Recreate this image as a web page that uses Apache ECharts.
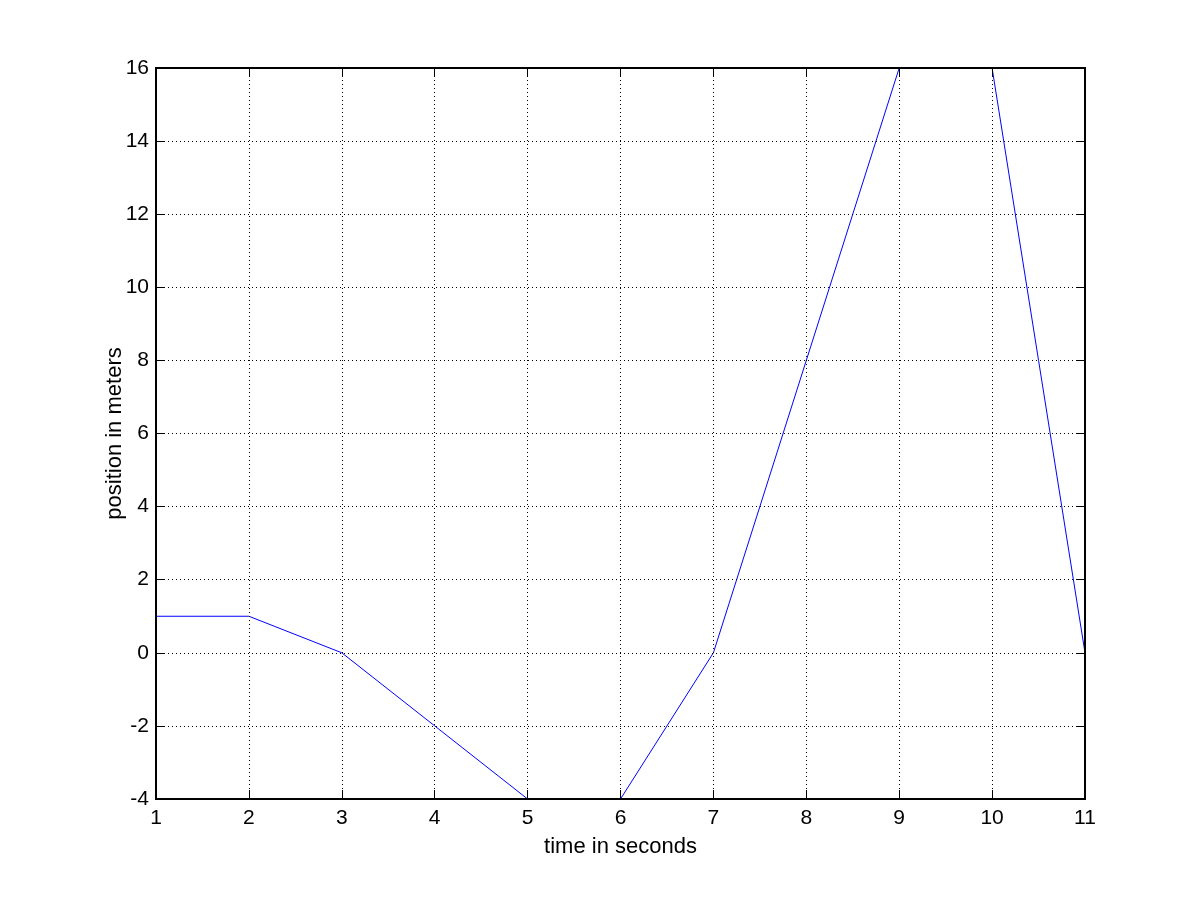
<!DOCTYPE html>
<html><head><meta charset="utf-8">
<script src="https://cdn.jsdelivr.net/npm/echarts@6/dist/echarts.min.js"></script>
<style>html,body{margin:0;padding:0;background:#fff}#c{width:1200px;height:900px}</style>
</head><body><div id="c"></div>
<script>
const timeSec = [1, 2, 3, 4, 5, 6, 7, 8, 9, 10, 11];
const positionM = [1, 1, 0, -2, -4, -4, 0, 8, 16, 16, 0];
const xLabel = 'time in seconds';
const yLabel = 'position in meters';

const font = 'Liberation Sans, Arial, sans-serif';
const FS = 21;
const NFS = 22;
const chart = echarts.init(document.getElementById('c'), null, {renderer: 'canvas'});
const tick = {show: true, inside: true, length: 9, lineStyle: {color: '#000', width: 1}};
const axisLine = {show: true, onZero: false, lineStyle: {color: '#000', width: 1}};
const grid = {show: true, lineStyle: {color: '#000', type: [1, 3], width: 1}};
chart.setOption({
  animation: false,
  backgroundColor: '#fff',
  grid: {left: 156, right: 115, top: 68, bottom: 101, containLabel: false},
  graphic: [{
    type: 'rect', z: 100, silent: true,
    shape: {x: 156, y: 68, width: 929, height: 731},
    style: {fill: null, stroke: '#000', lineWidth: 2}
  }],
  xAxis: [{
    type: 'value', min: 1, max: 11, interval: 1, position: 'bottom', z: 5,
    axisLine, axisTick: tick, splitLine: grid,
    axisLabel: {color: '#000', fontSize: FS, fontFamily: font, margin: 9},
    name: xLabel, nameLocation: 'middle', nameGap: 37, nameMoveOverlap: false,
    nameTextStyle: {color: '#000', fontSize: NFS, fontFamily: font}
  }, {
    type: 'value', min: 1, max: 11, interval: 1, position: 'top', z: 5,
    axisLine, axisTick: tick, splitLine: {show: false}, axisLabel: {show: false}
  }],
  yAxis: [{
    type: 'value', min: -4, max: 16, interval: 2, position: 'left', z: 5,
    axisLine, axisTick: tick, splitLine: grid,
    axisLabel: {color: '#000', fontSize: FS, fontFamily: font, margin: 7},
    name: yLabel, nameLocation: 'middle', nameGap: 30, nameRotate: 90, nameMoveOverlap: false,
    nameTextStyle: {color: '#000', fontSize: NFS, fontFamily: font}
  }, {
    type: 'value', min: -4, max: 16, interval: 2, position: 'right', z: 5,
    axisLine, axisTick: tick, splitLine: {show: false}, axisLabel: {show: false}
  }],
  series: [{
    type: 'line', xAxisIndex: 0, yAxisIndex: 0,
    data: timeSec.map((t, i) => [t, positionM[i]]),
    showSymbol: false, symbol: 'none',
    lineStyle: {color: '#0000ff', width: 1}, z: 2
  }]
});
</script></body></html>
